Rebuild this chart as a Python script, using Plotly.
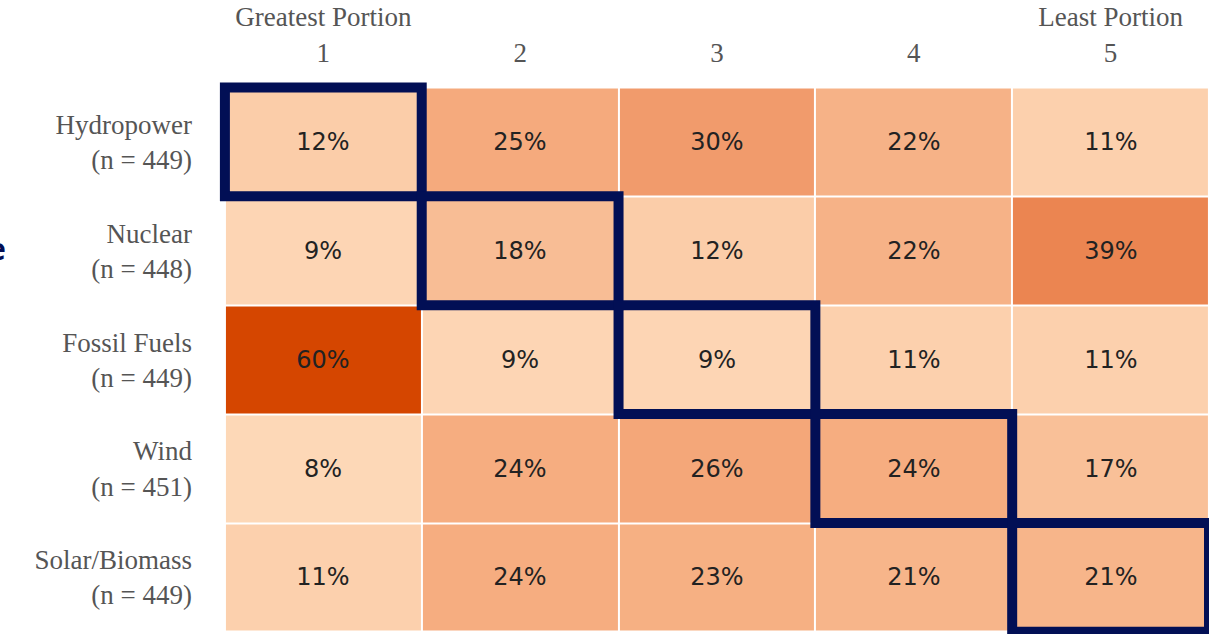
import plotly.graph_objects as go

# share of respondents ranking each source at each position (%)
sources = ["Hydropower<br>(n = 449)", "Nuclear<br>(n = 448)", "Fossil Fuels<br>(n = 449)",
           "Wind<br>(n = 451)", "Solar/Biomass<br>(n = 449)"]
ranks = ["Greatest Portion<br>1", "2", "3", "4", "Least Portion<br>5"]

hydro = [12, 25, 30, 22, 11]
nuclear = [9, 18, 12, 22, 39]
fossil = [60, 9, 9, 11, 11]
wind = [8, 24, 26, 24, 17]
solar = [11, 24, 23, 21, 21]
z = [hydro, nuclear, fossil, wind, solar]

navy = "#020f55"
label_font = dict(family="Liberation Serif, serif", size=27, color="#555555")

fig = go.Figure()
fig.add_trace(go.Heatmap(
    z=z, x=list(range(5)), y=list(range(5)),
    colorscale=[[0, "#FDD8B7"], [0.33, "#F5AA7C"], [0.42, "#F19B6C"],
                [0.6, "#EB8550"], [1, "#D54600"]],
    showscale=False, xgap=2, ygap=2,
    texttemplate="%{z}%",
    textfont=dict(family="DejaVu Sans, sans-serif", size=24, color="#222222"),
    hoverinfo="skip",
))

# outline the diagonal cells
for i in range(5):
    fig.add_shape(type="rect", x0=i - 0.5, x1=i + 0.5, y0=i - 0.5, y1=i + 0.5,
                  line=dict(color=navy, width=10), layer="above")

# cut-off text fragment at the left edge
fig.add_annotation(text="<b>e</b>", xref="paper", yref="paper", x=-0.213, y=0.74,
                   xanchor="right", showarrow=False,
                   font=dict(family="Noto Sans, sans-serif", size=30, color=navy))

fig.update_xaxes(side="top", range=[-0.53, 4.5], tickvals=list(range(5)), ticktext=ranks,
                 tickfont=label_font, showgrid=False, zeroline=False, ticks="",
                 ticklabelstandoff=14)
fig.update_yaxes(range=[4.52, -0.55], tickvals=list(range(5)), ticktext=sources,
                 tickfont=label_font, showgrid=False, zeroline=False, ticks="",
                 ticklabelstandoff=26)
fig.update_layout(width=1209, height=634, margin=dict(l=219, r=0, t=82, b=0),
                  plot_bgcolor="white", paper_bgcolor="white")
fig.write_html("out.html", config={"displayModeBar": False},
               post_script="document.body.style.margin='0';"
               "document.body.style.overflow='hidden';")
